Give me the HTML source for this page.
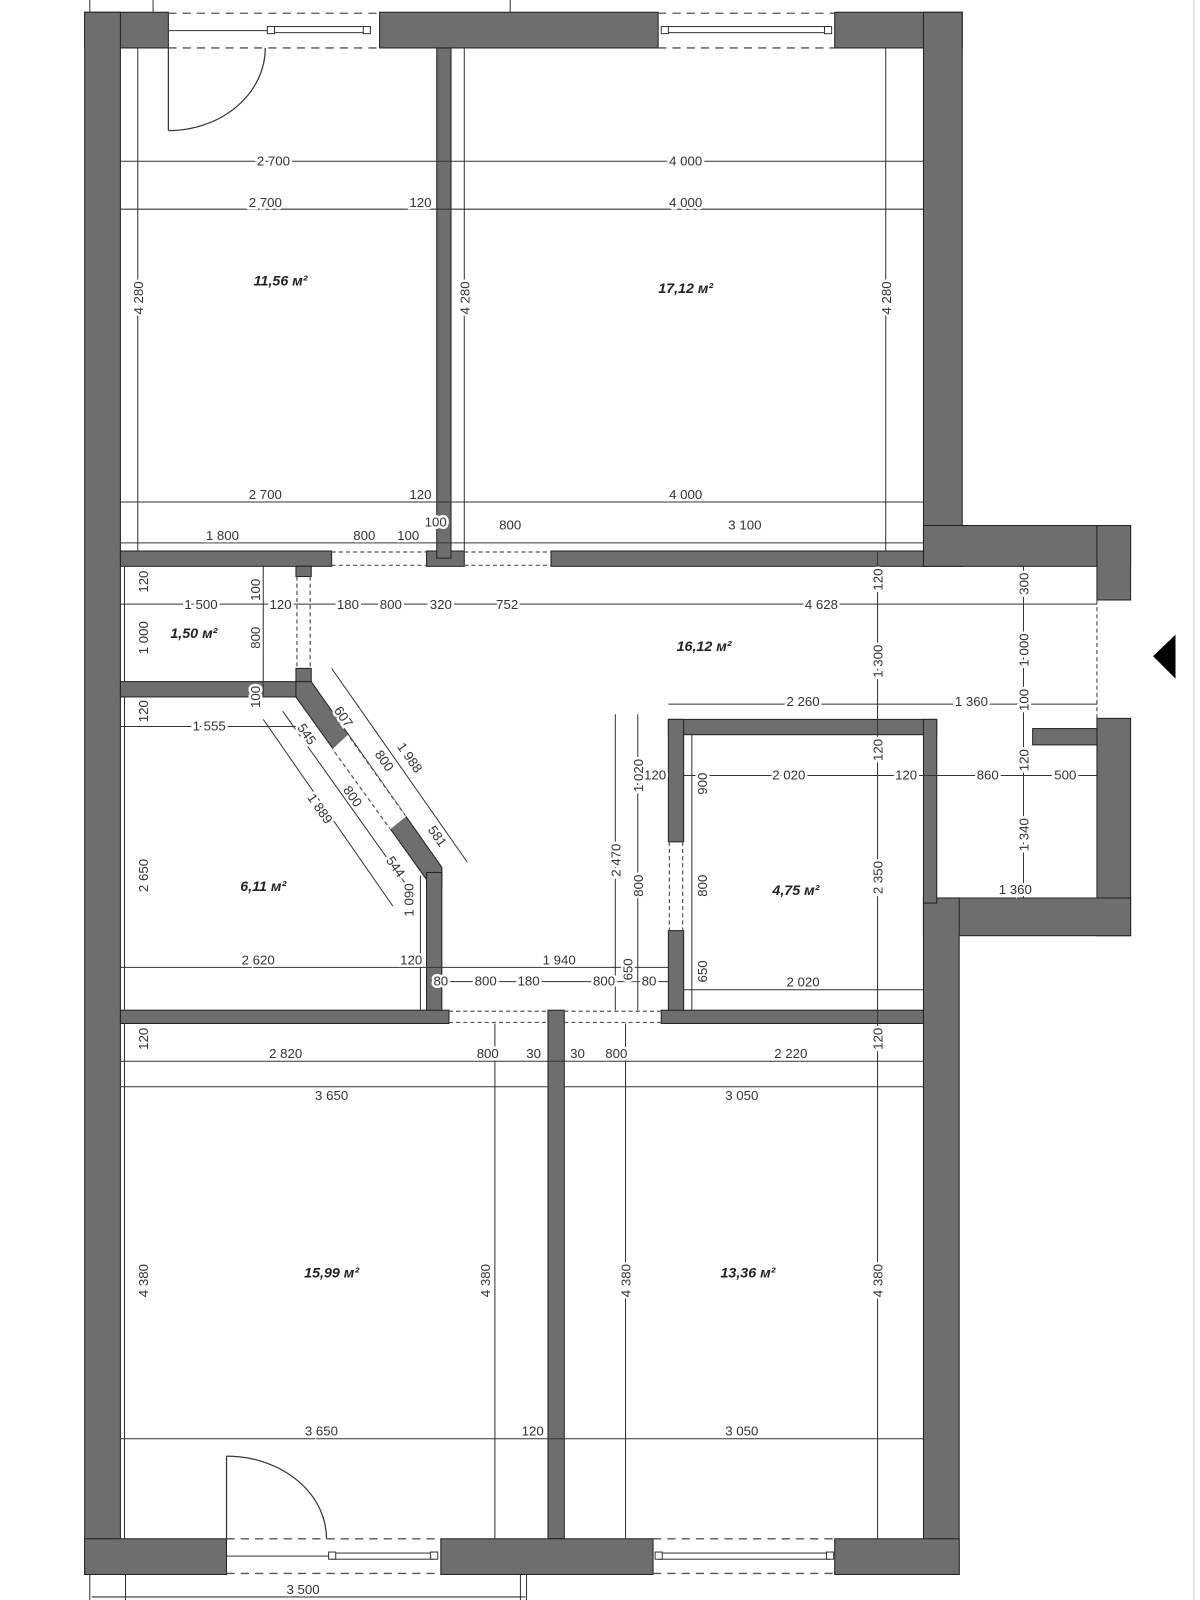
<!DOCTYPE html>
<html><head><meta charset="utf-8"><style>
html,body{margin:0;padding:0;background:#fff;}
svg{display:block;}
text{font-family:"Liberation Sans",sans-serif;font-size:13px;fill:#333;}
.a{font-weight:bold;font-style:italic;font-size:14px;fill:#222;}
.d{stroke:#333;stroke-width:1;fill:none;}
.w{fill:#6e6e6e;stroke:#222;stroke-width:1;}
.ds{stroke:#555;stroke-width:1.3;stroke-dasharray:8,6;fill:none;}
.ds2{stroke:#555;stroke-width:1.2;stroke-dasharray:4,3;fill:none;}
</style></head><body>
<svg width="1200" height="1600" viewBox="0 0 1176 1568" preserveAspectRatio="none" xmlns="http://www.w3.org/2000/svg">
<rect x="0" y="0" width="1176" height="1568" fill="#fff"/>
<g class="d">
<line x1="88" y1="0" x2="88" y2="12"/><line x1="150" y1="0" x2="150" y2="12"/><line x1="500" y1="0" x2="500" y2="12"/>
<line x1="88" y1="1543" x2="88" y2="1568"/><line x1="123" y1="1543" x2="123" y2="1568"/><line x1="510" y1="1543" x2="510" y2="1568"/><line x1="516" y1="1543" x2="516" y2="1568"/>
<line x1="1170" y1="0" x2="1170" y2="1568" stroke="#ccc"/>
</g>
<g class="w">
<rect x="83" y="12" width="82" height="35"/>
<rect x="372" y="12" width="273" height="35"/>
<rect x="818" y="12" width="125" height="35"/>
<rect x="83" y="12" width="35" height="1531"/>
<rect x="905" y="12" width="38" height="543"/>
<rect x="905" y="515" width="203" height="40"/>
<rect x="1075" y="515" width="33" height="73"/>
<rect x="1075" y="704" width="33" height="213"/>
<rect x="905" y="880" width="203" height="37"/>
<rect x="905" y="880" width="35" height="663"/>
<rect x="1012" y="714" width="63" height="16"/>
<rect x="655" y="705" width="263" height="15"/>
<rect x="655" y="705" width="15" height="120"/>
<rect x="655" y="912" width="15" height="91"/>
<rect x="905" y="705" width="13" height="180"/>
<rect x="118" y="540" width="207" height="15"/>
<rect x="418" y="540" width="37" height="15"/>
<rect x="540" y="540" width="365" height="15"/>
<rect x="428" y="47" width="14" height="500"/>
<rect x="290" y="555" width="15" height="10"/>
<rect x="290" y="655" width="15" height="28"/>
<rect x="118" y="668" width="187" height="15"/>
<polygon points="290,668 305,668 433,850 433,870 418,870 418,862 290,683"/>
<rect x="418" y="855" width="15" height="148"/>
<rect x="118" y="990" width="322" height="13"/>
<rect x="537" y="990" width="16" height="518"/>
<rect x="648" y="990" width="257" height="13"/>
<rect x="83" y="1508" width="139" height="35"/>
<rect x="432" y="1508" width="208" height="35"/>
<rect x="818" y="1508" width="122" height="35"/>
</g>
<polygon points="341,720 398,800 382,813 326,734" fill="#fff"/>
<line class="ds2" x1="343" y1="723" x2="397" y2="799"/>
<line class="ds2" x1="328" y1="737" x2="382" y2="812"/>
<g class="ds2">
<line x1="325" y1="541" x2="418" y2="541"/><line x1="325" y1="554" x2="418" y2="554"/>
<line x1="455" y1="541" x2="540" y2="541"/><line x1="455" y1="554" x2="540" y2="554"/>
<line x1="291" y1="565" x2="291" y2="655"/><line x1="304" y1="565" x2="304" y2="655"/>
<line x1="656" y1="825" x2="656" y2="912"/><line x1="669" y1="825" x2="669" y2="912"/>
<line x1="440" y1="991" x2="537" y2="991"/><line x1="440" y1="1002" x2="537" y2="1002"/>
<line x1="553" y1="991" x2="648" y2="991"/><line x1="553" y1="1002" x2="648" y2="1002"/>
<line x1="1075" y1="588" x2="1075" y2="704"/>
</g>
<g class="ds">
<line x1="165" y1="13" x2="372" y2="13"/><line x1="165" y1="47" x2="372" y2="47"/>
<line x1="645" y1="13" x2="818" y2="13"/><line x1="645" y1="47" x2="818" y2="47"/>
<line x1="222" y1="1508" x2="432" y2="1508"/><line x1="222" y1="1542" x2="432" y2="1542"/>
<line x1="640" y1="1508" x2="818" y2="1508"/><line x1="640" y1="1542" x2="818" y2="1542"/>
</g>
<g stroke="#333" fill="#fff" stroke-width="1">
<line x1="165" y1="30" x2="266" y2="30"/>
<rect x="266" y="26" width="92" height="6"/><rect x="262" y="26" width="7" height="7"/><rect x="356" y="26" width="7" height="7"/>
<rect x="650" y="26" width="163" height="6"/><rect x="648" y="26" width="7" height="7"/><rect x="808" y="26" width="7" height="7"/>
<line x1="222" y1="1525" x2="322" y2="1525"/>
<rect x="325" y="1522" width="100" height="6"/><rect x="322" y="1521" width="7" height="7"/><rect x="422" y="1521" width="7" height="7"/>
<rect x="645" y="1522" width="168" height="6"/><rect x="642" y="1521" width="7" height="7"/><rect x="810" y="1521" width="7" height="7"/>
</g>
<g stroke="#333" fill="none" stroke-width="1.2">
<line x1="165" y1="47" x2="165" y2="128"/><path d="M165,128 A95,81 0 0 0 260,47"/>
<line x1="222" y1="1508" x2="222" y2="1427"/><path d="M222,1427 A98,81 0 0 1 320,1508"/>
</g>
<g class="d">
<line x1="118" y1="158" x2="905" y2="158"/>
<line x1="118" y1="205" x2="905" y2="205"/>
<line x1="118" y1="492" x2="905" y2="492"/>
<line x1="118" y1="532" x2="905" y2="532"/>
<line x1="135" y1="47" x2="135" y2="540"/>
<line x1="455" y1="47" x2="455" y2="540"/>
<line x1="868" y1="47" x2="868" y2="540"/>
<line x1="118" y1="592" x2="1075" y2="592"/>
<line x1="122" y1="555" x2="122" y2="668"/>
<line x1="258" y1="555" x2="258" y2="683"/>
<line x1="860" y1="540" x2="860" y2="1508"/>
<line x1="1003" y1="555" x2="1003" y2="880"/>
<line x1="655" y1="690" x2="1075" y2="690"/>
<line x1="670" y1="760" x2="1075" y2="760"/>
<line x1="918" y1="880" x2="1075" y2="880"/>
<line x1="122" y1="683" x2="122" y2="990"/>
<line x1="118" y1="712" x2="290" y2="712"/>
<line x1="118" y1="948" x2="655" y2="948"/>
<line x1="412" y1="858" x2="412" y2="990"/>
<line x1="433" y1="962" x2="655" y2="962"/>
<line x1="603" y1="700" x2="603" y2="990"/>
<line x1="625" y1="700" x2="625" y2="990"/>
<line x1="678" y1="720" x2="678" y2="990"/>
<line x1="670" y1="970" x2="905" y2="970"/>
<line x1="325" y1="655" x2="458" y2="845"/>
<line x1="277" y1="697" x2="405" y2="877"/>
<line x1="258" y1="705" x2="385" y2="888"/>
<line x1="118" y1="1040" x2="905" y2="1040"/>
<line x1="118" y1="1065" x2="537" y2="1065"/>
<line x1="553" y1="1065" x2="905" y2="1065"/>
<line x1="122" y1="1003" x2="122" y2="1508"/>
<line x1="485" y1="1003" x2="485" y2="1508"/>
<line x1="613" y1="1003" x2="613" y2="1508"/>
<line x1="118" y1="1410" x2="905" y2="1410"/>
<line x1="90" y1="1565" x2="515" y2="1565"/>
</g>
<g style="paint-order:stroke;stroke:#fff;stroke-width:5px;">
<text x="268" y="162" text-anchor="middle">2 700</text>
<text x="672" y="162" text-anchor="middle">4 000</text>
<text x="260" y="203" text-anchor="middle">2 700</text>
<text x="412" y="203" text-anchor="middle">120</text>
<text x="672" y="203" text-anchor="middle">4 000</text>
<text x="260" y="489" text-anchor="middle">2 700</text>
<text x="412" y="489" text-anchor="middle">120</text>
<text x="672" y="489" text-anchor="middle">4 000</text>
<text x="218" y="529" text-anchor="middle">1 800</text>
<text x="357" y="529" text-anchor="middle">800</text>
<text x="400" y="529" text-anchor="middle">100</text>
<text x="427" y="516" text-anchor="middle">100</text>
<text x="500" y="519" text-anchor="middle">800</text>
<text x="730" y="519" text-anchor="middle">3 100</text>
<text transform="translate(140,292) rotate(-90)" text-anchor="middle">4 280</text>
<text transform="translate(460,292) rotate(-90)" text-anchor="middle">4 280</text>
<text transform="translate(873,292) rotate(-90)" text-anchor="middle">4 280</text>
<text x="197" y="597" text-anchor="middle">1 500</text>
<text x="275" y="597" text-anchor="middle">120</text>
<text x="341" y="597" text-anchor="middle">180</text>
<text x="383" y="597" text-anchor="middle">800</text>
<text x="432" y="597" text-anchor="middle">320</text>
<text x="497" y="597" text-anchor="middle">752</text>
<text x="805" y="597" text-anchor="middle">4 628</text>
<text transform="translate(145,570) rotate(-90)" text-anchor="middle">120</text>
<text transform="translate(145,625) rotate(-90)" text-anchor="middle">1 000</text>
<text transform="translate(255,578) rotate(-90)" text-anchor="middle">100</text>
<text transform="translate(255,625) rotate(-90)" text-anchor="middle">800</text>
<text transform="translate(255,683) rotate(-90)" text-anchor="middle">100</text>
<text transform="translate(865,568) rotate(-90)" text-anchor="middle">120</text>
<text transform="translate(865,648) rotate(-90)" text-anchor="middle">1 300</text>
<text transform="translate(865,735) rotate(-90)" text-anchor="middle">120</text>
<text transform="translate(865,860) rotate(-90)" text-anchor="middle">2 350</text>
<text transform="translate(865,1018) rotate(-90)" text-anchor="middle">120</text>
<text transform="translate(865,1255) rotate(-90)" text-anchor="middle">4 380</text>
<text transform="translate(1008,572) rotate(-90)" text-anchor="middle">300</text>
<text transform="translate(1008,637) rotate(-90)" text-anchor="middle">1 000</text>
<text transform="translate(1008,686) rotate(-90)" text-anchor="middle">100</text>
<text transform="translate(1008,745) rotate(-90)" text-anchor="middle">120</text>
<text transform="translate(1008,818) rotate(-90)" text-anchor="middle">1 340</text>
<text x="787" y="692" text-anchor="middle">2 260</text>
<text x="952" y="692" text-anchor="middle">1 360</text>
<text x="642" y="764" text-anchor="middle">120</text>
<text x="773" y="764" text-anchor="middle">2 020</text>
<text x="888" y="764" text-anchor="middle">120</text>
<text x="968" y="764" text-anchor="middle">860</text>
<text x="1044" y="764" text-anchor="middle">500</text>
<text x="995" y="876" text-anchor="middle">1 360</text>
<text transform="translate(145,697) rotate(-90)" text-anchor="middle">120</text>
<text x="205" y="716" text-anchor="middle">1 555</text>
<text transform="translate(145,858) rotate(-90)" text-anchor="middle">2 650</text>
<text x="253" y="945" text-anchor="middle">2 620</text>
<text x="403" y="945" text-anchor="middle">120</text>
<text transform="translate(405,882) rotate(-90)" text-anchor="middle">1 090</text>
<text x="548" y="945" text-anchor="middle">1 940</text>
<text x="432" y="966" text-anchor="middle">80</text>
<text x="476" y="966" text-anchor="middle">800</text>
<text x="518" y="966" text-anchor="middle">180</text>
<text x="592" y="966" text-anchor="middle">800</text>
<text transform="translate(620,950) rotate(-90)" text-anchor="middle">650</text>
<text x="636" y="966" text-anchor="middle">80</text>
<text transform="translate(608,843) rotate(-90)" text-anchor="middle">2 470</text>
<text transform="translate(630,760) rotate(-90)" text-anchor="middle">1 020</text>
<text transform="translate(630,868) rotate(-90)" text-anchor="middle">800</text>
<text transform="translate(693,768) rotate(-90)" text-anchor="middle">900</text>
<text transform="translate(693,868) rotate(-90)" text-anchor="middle">800</text>
<text transform="translate(693,952) rotate(-90)" text-anchor="middle">650</text>
<text x="787" y="967" text-anchor="middle">2 020</text>
<text transform="translate(333,705) rotate(55)" text-anchor="middle">607</text>
<text transform="translate(398,745) rotate(55)" text-anchor="middle">1 988</text>
<text transform="translate(373,748) rotate(55)" text-anchor="middle">800</text>
<text transform="translate(425,822) rotate(55)" text-anchor="middle">581</text>
<text transform="translate(297,722) rotate(55)" text-anchor="middle">545</text>
<text transform="translate(342,783) rotate(55)" text-anchor="middle">800</text>
<text transform="translate(310,795) rotate(55)" text-anchor="middle">1 889</text>
<text transform="translate(384,852) rotate(55)" text-anchor="middle">544</text>
<text transform="translate(145,1018) rotate(-90)" text-anchor="middle">120</text>
<text x="280" y="1037" text-anchor="middle">2 820</text>
<text x="478" y="1037" text-anchor="middle">800</text>
<text x="523" y="1037" text-anchor="middle">30</text>
<text x="566" y="1037" text-anchor="middle">30</text>
<text x="604" y="1037" text-anchor="middle">800</text>
<text x="775" y="1037" text-anchor="middle">2 220</text>
<text x="325" y="1078" text-anchor="middle">3 650</text>
<text x="727" y="1078" text-anchor="middle">3 050</text>
<text transform="translate(145,1255) rotate(-90)" text-anchor="middle">4 380</text>
<text transform="translate(480,1255) rotate(-90)" text-anchor="middle">4 380</text>
<text transform="translate(618,1255) rotate(-90)" text-anchor="middle">4 380</text>
<text x="315" y="1407" text-anchor="middle">3 650</text>
<text x="522" y="1407" text-anchor="middle">120</text>
<text x="727" y="1407" text-anchor="middle">3 050</text>
<text x="297" y="1562" text-anchor="middle">3 500</text>
</g>
<text class="a" x="275" y="280" text-anchor="middle">11,56 м²</text>
<text class="a" x="672" y="287" text-anchor="middle">17,12 м²</text>
<text class="a" x="190" y="625" text-anchor="middle">1,50 м²</text>
<text class="a" x="690" y="638" text-anchor="middle">16,12 м²</text>
<text class="a" x="258" y="873" text-anchor="middle">6,11 м²</text>
<text class="a" x="780" y="877" text-anchor="middle">4,75 м²</text>
<text class="a" x="325" y="1252" text-anchor="middle">15,99 м²</text>
<text class="a" x="733" y="1252" text-anchor="middle">13,36 м²</text>
<polygon points="1130,643 1152,622 1152,665" fill="#000"/>
</svg>
</body></html>
